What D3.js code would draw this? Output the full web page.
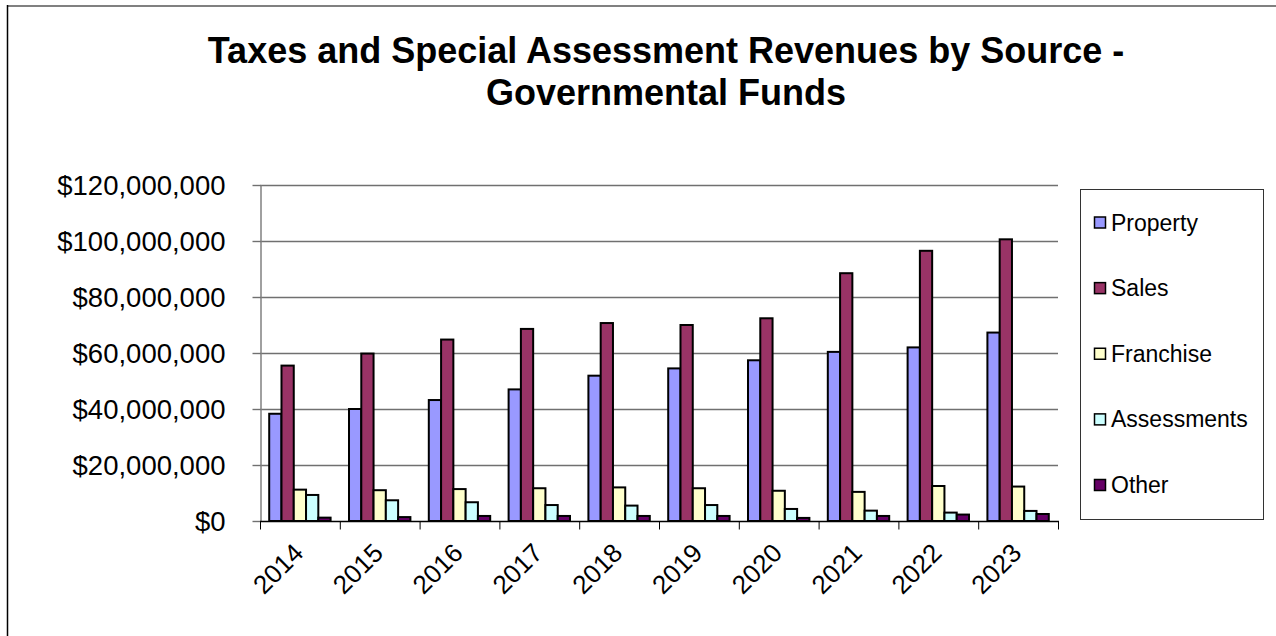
<!DOCTYPE html>
<html>
<head>
<meta charset="utf-8">
<script src="https://cdn.jsdelivr.net/npm/d3@7/dist/d3.min.js"></script>
<style>
  html, body { margin: 0; padding: 0; background: #fff; }
  svg { display: block; font-family: "Liberation Sans", Arial, sans-serif; }
</style>
</head>
<body>
<svg id="chart" width="1276" height="636"></svg>
<script>
// Fiscal years shown on the category axis
const years = ["2014", "2015", "2016", "2017", "2018", "2019", "2020", "2021", "2022", "2023"];

// Revenue series (dollars)
const property    = [38300000, 40000000, 43200000, 47000000, 51900000, 54500000, 57400000, 60400000, 62000000, 67300000];
const sales       = [55500000, 59800000, 64800000, 68600000, 70700000, 70000000, 72400000, 88500000, 96500000, 100600000];
const franchise   = [11200000, 11000000, 11400000, 11700000, 12000000, 11700000, 10800000, 10400000, 12500000, 12300000];
const assessments = [9300000, 7400000, 6700000, 5700000, 5500000, 5700000, 4300000, 3700000, 3000000, 3600000];
const other       = [1200000, 1400000, 1800000, 1800000, 1800000, 1800000, 1100000, 1800000, 2300000, 2500000];

const seriesNames = ["Property", "Sales", "Franchise", "Assessments", "Other"];
const seriesColors = ["#9999FF", "#993366", "#FFFFCC", "#CCFFFF", "#660066"];
const yTicks = [0, 20000000, 40000000, 60000000, 80000000, 100000000, 120000000];

const seriesValues = [property, sales, franchise, assessments, other];

const svg = d3.select("#chart");

// Outer chart frame (open on the right and bottom edges)
svg.append("line").attr("x1", 7).attr("x2", 1276).attr("y1", 6).attr("y2", 6)
  .attr("stroke", "#808080").attr("stroke-width", 2);
svg.append("line").attr("x1", 7.5).attr("x2", 7.5).attr("y1", 5).attr("y2", 636)
  .attr("stroke", "#000").attr("stroke-width", 1.5);

// Title
const title = svg.append("text")
  .attr("text-anchor", "middle")
  .attr("font-size", 36).attr("font-weight", "bold").attr("fill", "#000");
title.append("tspan").attr("x", 666).attr("y", 63).text("Taxes and Special Assessment Revenues by Source -");
title.append("tspan").attr("x", 666).attr("y", 105).text("Governmental Funds");

// Plot area
const plot = { left: 260, right: 1058, top: 185, bottom: 521 };

const x = d3.scaleBand().domain(years).range([plot.left, plot.right]).paddingInner(0).paddingOuter(0);
// Excel-style gap width of 150%: bar group takes 5/(5+1.5) of a category
const groupPad = x.bandwidth() * (1.5 / 6.5) / 2;
const xs = d3.scaleBand().domain(seriesNames).range([groupPad, x.bandwidth() - groupPad]).padding(0);
const y = d3.scaleLinear().domain([0, 120000000]).range([plot.bottom, plot.top]);

// Horizontal gridlines
svg.append("g").selectAll("line").data(yTicks.filter(d => d > 0)).join("line")
  .attr("x1", plot.left).attr("x2", plot.right)
  .attr("y1", d => Math.round(y(d)) + 0.5).attr("y2", d => Math.round(y(d)) + 0.5)
  .attr("stroke", "#707070").attr("stroke-width", 1.4);

// Y axis
const yAxis = d3.axisLeft(y).tickValues(yTicks).tickSizeInner(8).tickSizeOuter(0)
  .tickFormat(d => "$" + d3.format(",")(d)).tickPadding(27);
const gy = svg.append("g").attr("transform", `translate(${plot.left + 0.5},0)`).call(yAxis);
gy.select(".domain").attr("stroke", "#808080").attr("stroke-width", 1.5);
gy.selectAll(".tick line").attr("stroke", "#707070").attr("stroke-width", 1.4);
gy.selectAll(".tick text").attr("font-size", 27.5).attr("fill", "#000")
  .attr("font-family", "Liberation Sans, Arial, sans-serif").attr("dy", "0.35em");

// Bars
const groups = svg.append("g").selectAll("g").data(years).join("g")
  .attr("transform", d => `translate(${x(d)},0)`);
groups.selectAll("rect")
  .data((yr, i) => seriesNames.map((s, k) => ({ s, k, v: seriesValues[k][i] })))
  .join("rect")
  .attr("x", d => xs(d.s))
  .attr("width", xs.bandwidth())
  .attr("y", d => y(d.v))
  .attr("height", d => y(0) - y(d.v))
  .attr("fill", d => seriesColors[d.k])
  .attr("stroke", "#000").attr("stroke-width", 2);

// X axis: line with ticks at category boundaries
const gx = svg.append("g").attr("transform", `translate(0,${plot.bottom + 0.5})`);
gx.append("line").attr("x1", plot.left).attr("x2", plot.right + 1).attr("y1", 0).attr("y2", 0)
  .attr("stroke", "#000").attr("stroke-width", 1.5);
const boundaries = years.map(d => x(d)).concat([plot.right]);
gx.selectAll("line.tk").data(boundaries).join("line").attr("class", "tk")
  .attr("x1", d => d + 0.5).attr("x2", d => d + 0.5).attr("y1", 0).attr("y2", 8)
  .attr("stroke", "#000").attr("stroke-width", 1);
gx.selectAll("text").data(years).join("text")
  .attr("transform", d => `translate(${x(d) + x.bandwidth() / 2 + 5},${33}) rotate(-45)`)
  .attr("text-anchor", "end")
  .attr("font-size", 26).attr("fill", "#000")
  .text(d => d);

// Legend
const lg = svg.append("g");
lg.append("rect").attr("x", 1080.5).attr("y", 189.5).attr("width", 183).attr("height", 330)
  .attr("fill", "#fff").attr("stroke", "#333").attr("stroke-width", 1);
const ly = d3.scalePoint().domain(seriesNames).range([222.5, 485]);
const items = lg.selectAll("g.item").data(seriesNames).join("g").attr("class", "item")
  .attr("transform", d => `translate(0,${ly(d)})`);
items.append("rect").attr("x", 1094.5).attr("y", -5.5).attr("width", 11).attr("height", 11)
  .attr("fill", (d, i) => seriesColors[i]).attr("stroke", "#000").attr("stroke-width", 1.5);
items.append("text").attr("x", 1111).attr("y", 0).attr("dy", "0.35em")
  .attr("font-size", 23).attr("fill", "#000").text(d => d);
</script>
</body>
</html>
